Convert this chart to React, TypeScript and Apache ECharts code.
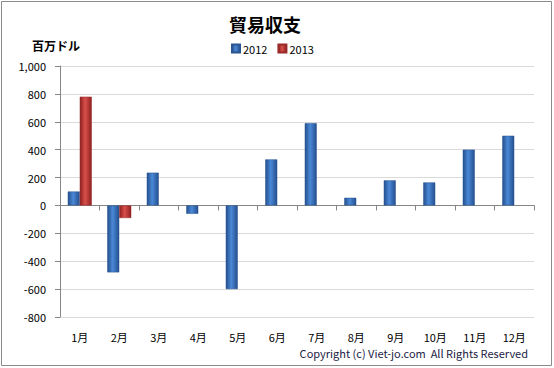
import React, { useEffect, useRef } from "react";
import * as echarts from "echarts";

const categories = ["1月", "2月", "3月", "4月", "5月", "6月", "7月", "8月", "9月", "10月", "11月", "12月"];
const series2012 = [100, -480, 235, -60, -600, 330, 590, 55, 180, 165, 400, 500];
const series2013: (number | null)[] = [780, -90, null, null, null, null, null, null, null, null, null, null];
const yTicks = { min: -800, max: 1000, interval: 200 };

const FONT = "'Noto Sans CJK JP', 'Noto Sans', sans-serif";

function grad(edge: string, mid: string) {
  return new echarts.graphic.LinearGradient(0, 0, 1, 0, [
    { offset: 0, color: edge },
    { offset: 0.45, color: mid },
    { offset: 1, color: edge },
  ]);
}

export default function App() {
  const ref = useRef<HTMLDivElement>(null);
  useEffect(() => {
    const chart = echarts.init(ref.current!, null, { renderer: "svg" });
    chart.setOption({
      animation: false,
      backgroundColor: "#fff",
      title: {
        text: "貿易収支",
        left: 260,
        textAlign: "center",
        top: 10,
        textStyle: { fontFamily: FONT, fontSize: 18, fontWeight: "bold", color: "#000" },
      },
      legend: {
        left: 226,
        top: 38,
        itemWidth: 8,
        itemHeight: 8,
        itemGap: 10,
        icon: "rect",
        textStyle: { fontFamily: FONT, fontSize: 11, color: "#000", padding: [0, 0, 0, -2] },
        data: ["2012", "2013"],
      },
      graphic: [
        {
          type: "text",
          left: 32,
          top: 39,
          style: { text: "百万ドル", fontFamily: FONT, fontSize: 12, fontWeight: "bold", fill: "#000" },
        },
        {
          type: "text",
          right: 26,
          top: 347,
          style: { text: "Copyright (c) Viet-jo.com  All Rights Reserved", fontFamily: FONT, fontSize: 11, fill: "#222244" },
        },
        {
          type: "rect",
          shape: { x: 1.5, y: 1.5, width: 550, height: 364 },
          style: { fill: "none", stroke: "#8c8c8c", lineWidth: 1 },
          silent: true,
          z: 100,
        },
      ],
      grid: { left: 60, right: 20, top: 66, bottom: 51 },
      xAxis: [
        {
          type: "category",
          data: categories,
          axisLine: { onZero: true, lineStyle: { color: "#868686" } },
          axisTick: { show: true, length: 5, lineStyle: { color: "#868686" } },
          axisLabel: { show: false },
        },
        {
          type: "category",
          data: categories,
          position: "bottom",
          axisLine: { show: false },
          axisTick: { show: false },
          axisLabel: { margin: 14, fontFamily: FONT, fontSize: 11, color: "#000" },
        },
      ],
      yAxis: {
        type: "value",
        min: yTicks.min,
        max: yTicks.max,
        interval: yTicks.interval,
        axisLine: { show: true, lineStyle: { color: "#868686" } },
        axisTick: { show: true, length: 5, lineStyle: { color: "#868686" } },
        axisLabel: {
          fontFamily: FONT,
          fontSize: 11,
          color: "#000",
          margin: 14,
          formatter: (v: number) => v.toLocaleString("en-US"),
        },
        splitLine: { lineStyle: { color: "#d9d9d9" } },
      },
      series: [
        {
          name: "2012",
          type: "bar",
          data: series2012,
          barWidth: 12,
          barGap: "0%",
          itemStyle: { color: grad("#244f8f", "#4a88d6"), borderColor: "#2a5591", borderWidth: 0.5 },
        },
        {
          name: "2013",
          type: "bar",
          data: series2013,
          barWidth: 12,
          barGap: "0%",
          itemStyle: { color: grad("#8e2020", "#d9504c"), borderColor: "#9a2a2a", borderWidth: 0.5 },
        },
      ],
    });
    return () => chart.dispose();
  }, []);
  return (
    <div
      ref={ref}
      style={{ position: "fixed", left: 0, top: 0, width: 554, height: 368 }}
    />
  );
}
